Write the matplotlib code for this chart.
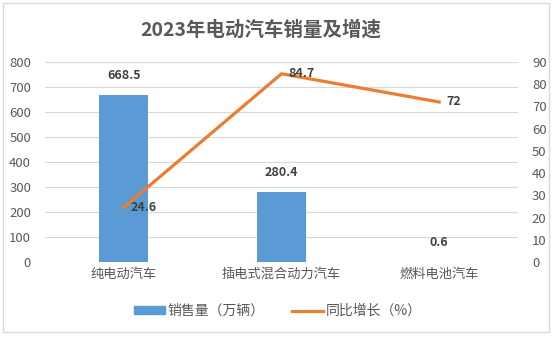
import matplotlib
matplotlib.use("Agg")
import matplotlib.pyplot as plt
from matplotlib.patches import Rectangle

plt.rcParams['font.family'] = ['Noto Sans CJK SC', 'DejaVu Sans']

categories = ["纯电动汽车", "插电式混合动力汽车", "燃料电池汽车"]
sales = [668.5, 280.4, 0.6]
growth = [24.6, 84.7, 72]
left_ticks = [0, 100, 200, 300, 400, 500, 600, 700, 800]
right_ticks = [0, 10, 20, 30, 40, 50, 60, 70, 80, 90]

bar_color = "#5b9bd5"
line_color = "#ed7d31"
text_color = "#595959"
label_color = "#404040"

fig = plt.figure(figsize=(5.54, 3.37), dpi=100)
fig.patches.append(Rectangle((0.006, 0.015), 0.985, 0.975, transform=fig.transFigure,
                             fill=False, edgecolor="#d9d9d9", linewidth=1))

W, H = 554, 337
ax = fig.add_axes([45 / W, 1 - 262 / H, (518 - 45) / W, 200 / H])
ax2 = ax.twinx()

x = list(range(len(categories)))
ax.bar(x, sales, width=0.31, color=bar_color, zorder=2)
ax.set_ylim(0, 800)
ax.set_xlim(-0.5, 2.5)
ax.set_yticks(left_ticks)
ax.grid(axis="y", color="#d9d9d9", linewidth=0.8, zorder=0)
ax.set_axisbelow(True)
ax.set_xticks(x)
ax.set_xticklabels(categories, fontsize=10.5, color=text_color)

ax2.plot(x, growth, color=line_color, linewidth=2.3, zorder=3)
ax2.set_ylim(0, 90)
ax2.set_yticks(right_ticks)

for a in (ax, ax2):
    for s in a.spines.values():
        s.set_visible(False)
    a.tick_params(length=0, labelsize=9.5, colors=text_color)
ax.tick_params(axis="y", pad=10)
ax2.tick_params(axis="y", pad=10)
ax.tick_params(axis="x", pad=4)

for xi, v in zip(x, sales):
    ax.annotate(f"{v:g}", (xi, v), xytext=(0, 9), textcoords="offset points",
                ha="center", va="bottom", fontsize=9, fontweight="bold", color=label_color)
for xi, v in zip(x, growth):
    ax2.annotate(f"{v:g}", (xi, v), xytext=(5, 0), textcoords="offset points",
                 ha="left", va="center", fontsize=9, fontweight="bold", color=label_color)

fig.text(261 / W, 1 - 30 / H, "2023年电动汽车销量及增速", ha="center", va="center",
         fontsize=14, fontweight="bold", color=text_color)

handles = [Rectangle((0, 0), 1, 1, color=bar_color),
           plt.Line2D([0], [0], color=line_color, linewidth=2.3)]
fig.legend(handles, ["销售量（万辆）", "同比增长（%）"], loc="center",
           bbox_to_anchor=(278 / W, 1 - 311 / H), ncol=2, frameon=False,
           fontsize=10, labelcolor=text_color, handlelength=2.2, handleheight=0.45,
           columnspacing=2.0, handletextpad=0.2)

fig.savefig("out.png", dpi=100)
